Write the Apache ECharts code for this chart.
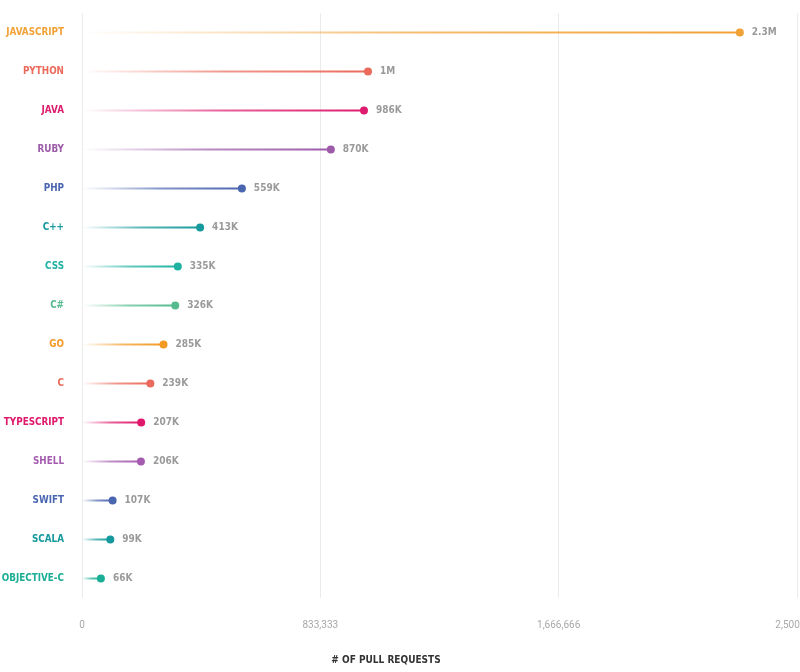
<!DOCTYPE html>
<html>
<head>
<meta charset="utf-8">
<title>Pull requests by language</title>
<script src="https://cdn.jsdelivr.net/npm/echarts@6/dist/echarts.min.js"></script>
<style>
  html, body { margin: 0; padding: 0; background: #fff; }
  #chart { width: 800px; height: 672px; }
</style>
</head>
<body>
<div id="chart"></div>
<script>
// data
const languages = ['JAVASCRIPT', 'PYTHON', 'JAVA', 'RUBY', 'PHP', 'C++', 'CSS', 'C#', 'GO', 'C',
  'TYPESCRIPT', 'SHELL', 'SWIFT', 'SCALA', 'OBJECTIVE-C']
const pullRequests = [2300000, 1000000, 986000, 870000, 559000, 413000, 335000, 326000, 285000, 239000,
  207000, 206000, 107000, 99000, 66000]
const colors = ['#f2a136', '#ea6a5b', '#dd1c6e', '#9c5aa8', '#4b66b0', '#15999c', '#1fb2a2', '#55bb8e', '#f29a24', '#ea6a5b',
  '#e0186c', '#a55cb0', '#4b66b0', '#15999c', '#1bae96']

const labelFont = 'DejaVu Sans Condensed'

const fmtValue = (v) => {
  if (v >= 1000000) {
    const m = v / 1000000
    return (Number.isInteger(m) ? m : m.toFixed(1)) + 'M'
  }
  return Math.round(v / 1000) + 'K'
}

const hexToRgba = (hex, a) => {
  const n = parseInt(hex.slice(1), 16)
  return 'rgba(' + (n >> 16) + ',' + ((n >> 8) & 255) + ',' + (n & 255) + ',' + a + ')'
}

const chart = echarts.init(document.getElementById('chart'))

// stems: gradient from transparent to the language colour
const stems = pullRequests.map((v, i) => ({
  value: v,
  itemStyle: {
    color: new echarts.graphic.LinearGradient(0, 0, 1, 0, [
      { offset: 0, color: hexToRgba(colors[i], 0) },
      { offset: 0.15, color: hexToRgba(colors[i], 0.2) },
      { offset: 0.5, color: hexToRgba(colors[i], 0.7) },
      { offset: 1, color: hexToRgba(colors[i], 1) }
    ])
  }
}))

const dots = pullRequests.map((v, i) => ({
  value: [v, languages[i]],
  itemStyle: { color: colors[i], opacity: 1 }
}))

const option = {
  animation: false,
  backgroundColor: '#fff',
  grid: { left: 82, right: 3, top: 13, bottom: 74, outerBoundsMode: 'none', containLabel: false },
  xAxis: {
    type: 'value',
    min: 0,
    max: 2500000,
    interval: 2500000 / 3,
    axisLine: { show: false },
    axisTick: { show: false },
    splitLine: { lineStyle: { color: '#ebebeb', width: 1 } },
    axisLabel: {
      margin: 22,
      color: '#a8a8a8',
      fontSize: 10,
      fontFamily: 'Roboto',
      formatter: (v) => Math.floor(v + 0.001).toLocaleString('en-US')
    }
  },
  yAxis: {
    type: 'category',
    data: languages,
    inverse: true,
    axisLine: { show: false },
    axisTick: { show: false },
    axisLabel: {
      margin: 18,
      fontSize: 9.8,
      fontWeight: 'bold',
      fontFamily: labelFont,
      color: (val, idx) => colors[idx]
    }
  },
  graphic: [{
    type: 'text',
    x: 386,
    y: 660,
    style: {
      text: '# OF PULL REQUESTS',
      fill: '#333',
      font: 'bold 10px "DejaVu Sans Condensed"',
      textAlign: 'center',
      textVerticalAlign: 'middle'
    }
  }],
  series: [
    {
      type: 'bar',
      data: stems,
      barWidth: 2,
      silent: true
    },
    {
      type: 'scatter',
      data: dots,
      symbolSize: 8,
      label: {
        show: true,
        position: 'right',
        distance: 8,
        color: '#9a9a9a',
        fontSize: 10,
        fontWeight: 'bold',
        fontFamily: labelFont,
        formatter: (p) => fmtValue(p.value[0])
      }
    }
  ]
}

chart.setOption(option)
</script>
</body>
</html>
